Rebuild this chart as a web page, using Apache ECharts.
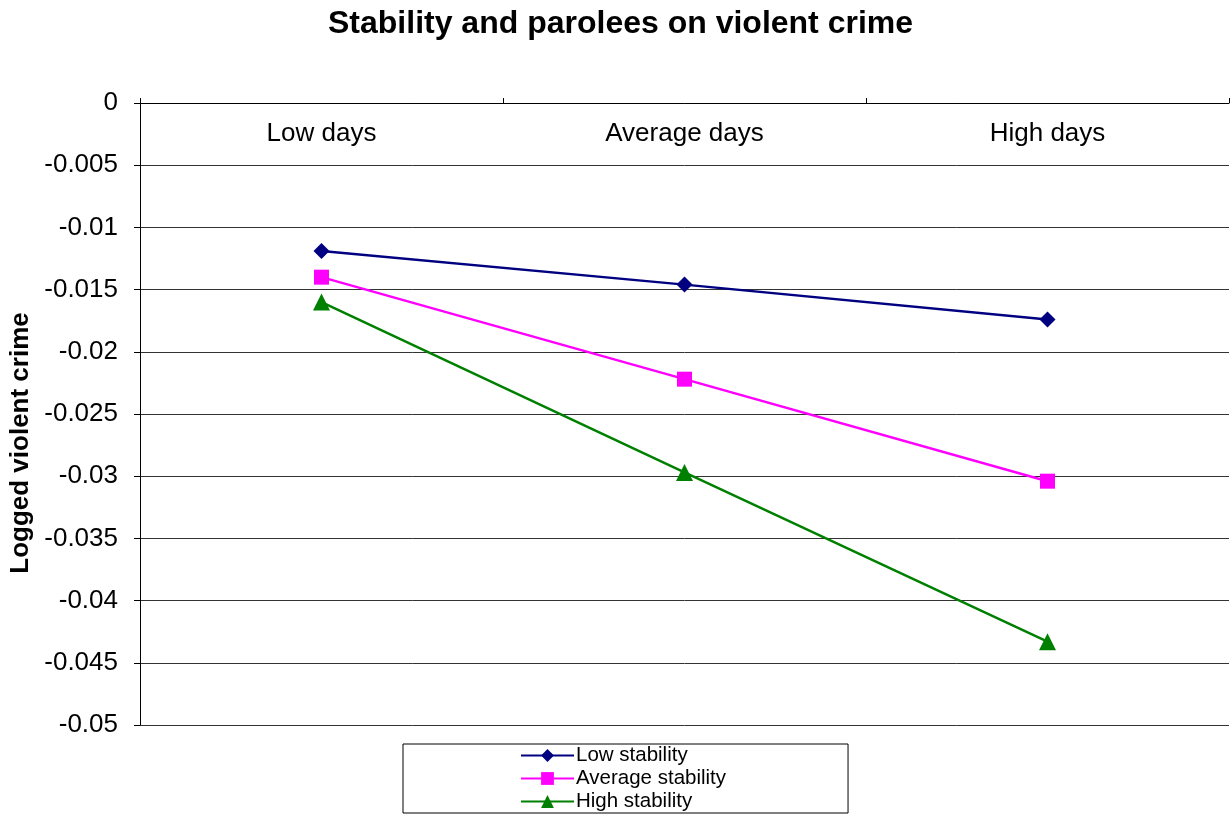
<!DOCTYPE html>
<html>
<head>
<meta charset="utf-8">
<script src="https://cdn.jsdelivr.net/npm/echarts@6/dist/echarts.min.js"></script>
<style>
  html, body { margin: 0; padding: 0; background: #fff; }
  #main { width: 1230px; height: 815px; }
</style>
</head>
<body>
<div id="main"></div>
<script>
// categories along the top axis
var categories = ['Low days', 'Average days', 'High days'];
// logged violent crime values per stability level
var lowStability = [-0.0119, -0.0146, -0.0174];
var averageStability = [-0.0140, -0.0222, -0.0304];
var highStability = [-0.0160, -0.0297, -0.0433];

var myChart = echarts.init(document.getElementById('main'));

var font = 'Arial, "Liberation Sans", sans-serif';

var option = {
    backgroundColor: '#fff',
    title: {
        text: 'Stability and parolees on violent crime',
        left: 328,
        top: 3,
        padding: [5, 0, 5, 0],
        textStyle: { fontFamily: font, fontSize: 32, fontWeight: 'bold', color: '#000' }
    },
    grid: { left: 140, right: 1, top: 103, bottom: 90, outerBoundsMode: 'none' },
    legend: {
        orient: 'vertical',
        left: 403,
        top: 744,
        data: ['Low stability', 'Average stability', 'High stability'],
        backgroundColor: '#fff',
        borderColor: '#000',
        borderWidth: 1,
        borderRadius: 0,
        padding: [1, 122, 1, 117],
        itemWidth: 53,
        itemHeight: 16,
        itemGap: 2,
        textStyle: { fontFamily: font, fontSize: 20.5, color: '#000', padding: [0, 0, 0, -3] }
    },
    xAxis: {
        type: 'category',
        position: 'top',
        data: categories,
        axisLine: { show: true, lineStyle: { color: '#000', width: 1 } },
        axisTick: { show: true, inside: false, length: 5, lineStyle: { color: '#000' } },
        axisLabel: { inside: true, margin: 18, fontFamily: font, fontSize: 26, color: '#000' },
        splitLine: { show: false }
    },
    yAxis: {
        type: 'value',
        min: -0.05,
        max: 0,
        interval: 0.005,
        name: 'Logged violent crime',
        nameLocation: 'middle',
        nameGap: 104,
        nameRotate: 90,
        nameTextStyle: {
            fontFamily: font, fontSize: 26, fontWeight: 'bold', color: '#000',
            padding: [0, 58, 0, 0]
        },
        axisLine: { show: true, lineStyle: { color: '#000', width: 1 } },
        axisTick: { show: true, length: 6, lineStyle: { color: '#000' } },
        axisLabel: {
            margin: 22,
            fontFamily: font,
            fontSize: 26,
            color: '#000',
            formatter: function (v) {
                return String(parseFloat(v.toFixed(3)));
            }
        },
        splitLine: { show: true, lineStyle: { color: '#333', width: 1 } }
    },
    series: [{
        name: 'Low stability',
        type: 'line',
        data: lowStability,
        symbol: 'diamond',
        symbolSize: 16,
        lineStyle: { color: '#000080', width: 2.5 },
        itemStyle: { color: '#000080' }
    }, {
        name: 'Average stability',
        type: 'line',
        data: averageStability,
        symbol: 'rect',
        symbolSize: 15,
        lineStyle: { color: '#FF00FF', width: 2.5 },
        itemStyle: { color: '#FF00FF' }
    }, {
        name: 'High stability',
        type: 'line',
        data: highStability,
        symbol: 'triangle',
        symbolSize: 17,
        lineStyle: { color: '#008000', width: 2.5 },
        itemStyle: { color: '#008000' }
    }]
};
myChart.setOption(option);
</script>
</body>
</html>
